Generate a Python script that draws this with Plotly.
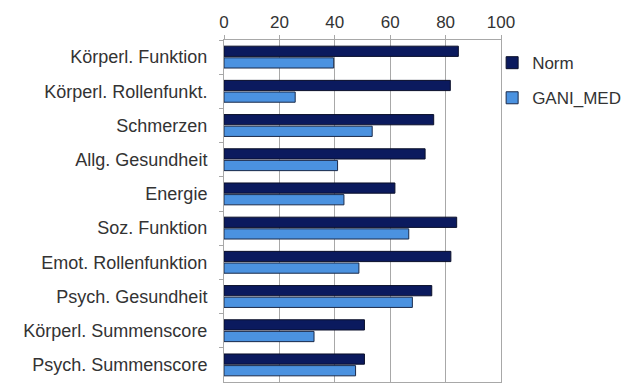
import plotly.graph_objects as go

categories = ["Körperl. Funktion", "Körperl. Rollenfunkt.", "Schmerzen", "Allg. Gesundheit",
              "Energie", "Soz. Funktion", "Emot. Rollenfunktion", "Psych. Gesundheit",
              "Körperl. Summenscore", "Psych. Summenscore"]
norm = [84.6, 81.7, 75.7, 72.6, 61.7, 84.0, 81.9, 75.0, 50.7, 50.7]
gani_med = [39.6, 25.7, 53.5, 41.0, 43.3, 66.7, 48.7, 68.0, 32.5, 47.5]
x_ticks = [0, 20, 40, 60, 80, 100]

fig = go.Figure()
fig.add_trace(go.Bar(y=categories, x=norm, orientation="h", name="Norm",
                     legendgroup="a",
                     marker=dict(color="#0b1a5e", line=dict(color="#0a0f2a", width=1))))
fig.add_trace(go.Bar(y=categories, x=gani_med, orientation="h", name="GANI_MED",
                     legendgroup="b",
                     marker=dict(color="#4b92e0", line=dict(color="#1a2a4a", width=1))))

fig.update_layout(
    width=627, height=383,
    margin=dict(l=224, r=122, t=40, b=1),
    paper_bgcolor="white", plot_bgcolor="white",
    barmode="group", bargap=0.32, bargroupgap=0.12,
    font=dict(family="Liberation Sans, Arial, sans-serif", size=14, color="#333"),
    showlegend=True,
    legend=dict(x=0.968, y=0.985, xanchor="left", yanchor="top",
                traceorder="grouped", tracegroupgap=10,
                font=dict(size=17, color="#333"), itemwidth=30,
                bgcolor="rgba(0,0,0,0)"),
    xaxis=dict(side="top", range=[0, 100], tickvals=x_ticks, ticktext=[str(v) for v in x_ticks],
               showgrid=True, gridcolor="#a8a8a8", gridwidth=1,
               ticks="outside", ticklen=4, tickcolor="#a8a8a8",
               showline=True, linecolor="#a8a8a8", mirror=True, zeroline=False,
               tickfont=dict(size=17, color="#333")),
    yaxis=dict(autorange="reversed", tickson="boundaries", ticks="outside", ticklen=4,
               tickcolor="#a8a8a8", showline=True, linecolor="#a8a8a8", mirror=True,
               ticklabelstandoff=12,
               tickfont=dict(size=18, color="#333"), showgrid=False),
)

fig.write_html("out.html")
